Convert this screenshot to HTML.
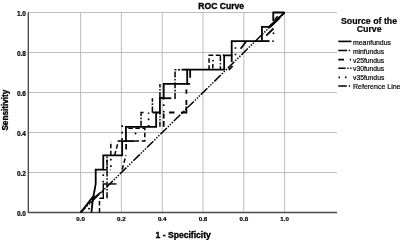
<!DOCTYPE html>
<html><head><meta charset="utf-8">
<style>
html,body{margin:0;padding:0;background:#fff;width:400px;height:240px;overflow:hidden}
svg{display:block;filter:grayscale(1)}
text{font-family:"Liberation Sans",sans-serif;fill:#000;stroke:#000;stroke-width:0.2}
</style></head><body>
<svg width="400" height="240" viewBox="0 0 400 240">
<rect width="400" height="240" fill="#fff"/>
<!-- gridlines -->
<g stroke="#bdbdbd" stroke-width="1" fill="none">
<path d="M28 12.5H337M28 52.5H337M28 92.5H337M28 132.5H337M28 172.5H337"/>
<path d="M80.6 12.5V212M121.4 12.5V212M162.2 12.5V212M203 12.5V212M243.8 12.5V212M284.6 12.5V212"/>
</g>
<!-- axes -->
<g stroke="#4a4a4a" stroke-width="1.35" fill="none">
<path d="M28.3 12.3V212.5H337"/>
</g>
<!-- title -->
<text x="198.3" y="8.6" font-size="8.6" font-weight="bold" style="stroke-width:0.35">ROC Curve</text>
<!-- y tick labels -->
<g font-size="6.5" font-weight="bold" text-anchor="end">
<text x="26" y="15.5">1.0</text>
<text x="26" y="55.5">0.8</text>
<text x="26" y="95.5">0.6</text>
<text x="26" y="135.5">0.4</text>
<text x="26" y="175.5">0.2</text>
<text x="26" y="215.5">0.0</text>
</g>
<!-- x tick labels -->
<g font-size="6.2" font-weight="bold" text-anchor="middle">
<text x="80.6" y="221.3">0.0</text>
<text x="121.4" y="221.3">0.2</text>
<text x="162.2" y="221.3">0.4</text>
<text x="203" y="221.3">0.6</text>
<text x="243.8" y="221.3">0.8</text>
<text x="284.6" y="221.3">1.0</text>
</g>
<text x="155.5" y="237.5" font-size="8.6" font-weight="bold" style="stroke-width:0.35">1 - Specificity</text>
<text transform="translate(8.4,130.6) rotate(-90)" font-size="8.2" font-weight="bold" style="stroke-width:0.35">Sensitivity</text>
<!-- legend -->
<g font-size="8.8" font-weight="bold" text-anchor="middle" style="stroke-width:0.35">
<text x="369" y="23.7">Source of the</text>
<text x="369.2" y="32.2">Curve</text>
</g>
<g font-size="7.6" style="stroke-width:0.22" lengthAdjust="spacingAndGlyphs">
<text x="353" y="44.6" textLength="37.9" lengthAdjust="spacingAndGlyphs">meanfundus</text>
<text x="353" y="53.6" textLength="31.1" lengthAdjust="spacingAndGlyphs">minfundus</text>
<text x="353" y="62.5" textLength="31.2" lengthAdjust="spacingAndGlyphs">v25fundus</text>
<text x="353" y="71.4" textLength="31.2" lengthAdjust="spacingAndGlyphs">v30fundus</text>
<text x="353" y="80.3" textLength="31.3" lengthAdjust="spacingAndGlyphs">v35fundus</text>
<text x="353" y="89.3" textLength="47.5" lengthAdjust="spacingAndGlyphs">Reference Line</text>
</g>
<g stroke="#000" stroke-width="1.6" fill="none">
<path d="M338.3 41.4H351.5"/>
<path d="M338.3 50.5H347.1M348.7 50.5H350.1"/>
<path d="M338.3 59.6H344M349.8 59.6H351"/>
<path d="M338.3 68.2H345.6M347.3 68.2H348.6M350.2 68.2H351.5"/>
<path d="M338.5 77.4H340M345 77.4H346.5"/>
<path d="M338.3 86H346.8M348.8 86H350.1"/>
</g>
<!-- curves -->
<g id="curves" fill="none" stroke="#000" stroke-linejoin="miter">
<path d="M80.6 212.5L284.6 12.5" stroke-width="1.5" stroke-dasharray="9.1 1.4 1.4 1.4 1.4 1.4 1.4 1.4" stroke-dashoffset="1.7"/>
<path d="M91.4 212.5L92.8 200L95.7 184V169.64H103.27V155.36H122.16V141.07H125.93V126.79H156.16V112.5H159.93V98.21H163.71V83.93H187.2V69.64H224.16V55.36H231.71V41.07H261.93V26.79H269.49L284.6 12.5" stroke-width="1.8"/>
<path d="M80.6 212.5L91.93 198.21L94.2 195.5" stroke-width="1.9" />
<path d="M99.49 212.5V198.21" stroke-width="1.5" stroke-dasharray="4.5 2.5"/>
<path d="M99.49 198.21H103.27V183.93H106.5" stroke-width="1.4"/>
<path d="M108.5 183.93H116.5" stroke-width="1.4"/>
<path d="M107.04 198.21V156" stroke-width="1.5" stroke-dasharray="6 1.6 1.6 1.6"/>
<path d="M88.8 209.5L91 202" stroke-width="1.7" stroke-dasharray="1.7 4.8"/>
<path d="M103.27 182.5V172" stroke-width="1.7" stroke-dasharray="1.7 4.8"/>
<path d="M103.27 169.64H110.82" stroke-width="1.5" stroke-dasharray="4.5 2.5"/>
<path d="M107.04 168V156" stroke-width="1.7" stroke-dasharray="1.7 4.8"/>
<path d="M110.82 167V157" stroke-width="1.7" stroke-dasharray="1.7 4.8"/>
<path d="M110.82 155.36V141.07" stroke-width="1.5" stroke-dasharray="4.5 2.5"/>
<path d="M114.6 155.36L118.38 141.07H122.16" stroke-width="1.5" stroke-dasharray="4.5 2.5"/>
<path d="M122.16 169.64L125.93 155.36" stroke-width="1.5" stroke-dasharray="4.5 2.5"/>
<path d="M126.1 143.9V149.5" stroke-width="1.8"/>
<path d="M125.93 141.07H134.6" stroke-width="1.8"/>
<path d="M134.6 141.07H144.82V128.2H127" stroke-width="1.5" stroke-dasharray="4.5 2.5"/>
<path d="M135.5 133.5h0.01" stroke-width="1.9" stroke-linecap="round"/>
<path d="M122.16 140V125" stroke-width="1.7" stroke-dasharray="1.7 4.8"/>
<path d="M141.04 126.79V112.5H145" stroke-width="1.5" stroke-dasharray="6 1.6 1.6 1.6"/>
<path d="M152.38 112.5V98.21" stroke-width="1.5" stroke-dasharray="6 1.6 1.6 1.6"/>
<path d="M148.6 126.79V112.5" stroke-width="1.7" stroke-dasharray="1.7 4.8"/>
<path d="M163.71 126.8V121M163.71 118.5V113.5M169 112.5H174.5M181 112.5H186.38V106.5M186.38 105V100M186.38 93.8V89.4M186.38 83.93H190.16M190.16 77.7V69.64" stroke-width="1.8"/>
<path d="M163.71 112.5V98.21" stroke-width="1.7" stroke-dasharray="1.7 4.8"/>
<path d="M159.93 126.79V112.5" stroke-width="1.5" stroke-dasharray="5 1.4 1.4 1.4 1.4 1.4"/>
<path d="M159.93 98.21V83.93" stroke-width="1.5" stroke-dasharray="6 1.6 1.6 1.6"/>
<path d="M159.93 98.21H171.3" stroke-width="1.8"/>
<path d="M175.04 99V69.64H180" stroke-width="1.5" stroke-dasharray="6 1.6 1.6 1.6"/>
<path d="M181.5 69.64H187.2" stroke-width="1.8"/>
<path d="M209.04 69.64V55.36H224.16" stroke-width="1.5" stroke-dasharray="4.5 2.5"/>
<path d="M220.38 55.36V69.64" stroke-width="1.5" stroke-dasharray="6 1.6 1.6 1.6"/>
<path d="M212.82 64V69.64" stroke-width="1.5" stroke-dasharray="4.5 2.5"/>
<path d="M235.49 55.36V41.07" stroke-width="1.7" stroke-dasharray="1.7 4.8"/>
<path d="M240.6 48.8L246.3 41.2" stroke-width="1.8"/>
<path d="M261.93 41.07H269.49" stroke-width="1.8"/>
<path d="M273.27 21V12.5H284.6" stroke-width="1.8"/>
<path d="M213 60.6h0.01" stroke-width="1.9" stroke-linecap="round"/>
<path d="M231.71 55.36V62" stroke-width="1.8"/>
<path d="M228.8 69.8L232.6 66.2" stroke-width="1.8"/>
<path d="M266.2 35.6L273.5 28.5" stroke-width="1.8"/>
<path d="M273.5 33.3h0.01" stroke-width="1.9" stroke-linecap="round"/>
<path d="M269.5 27L279.5 17.5" stroke-width="2.6"/>
<path d="M91.8 199.8L100.6 192.3" stroke-width="1.4"/>
<path d="M101.5 191.6H103.27" stroke-width="1.8"/>
<path d="M152.38 112.5H156.16" stroke-width="1.8"/>
<path d="M274.6 19.8L277.6 16.2" stroke-width="1.4"/>
<path d="M273 41.1h0.01" stroke-width="1.9" stroke-linecap="round"/>
</g>
</svg>
</body></html>
